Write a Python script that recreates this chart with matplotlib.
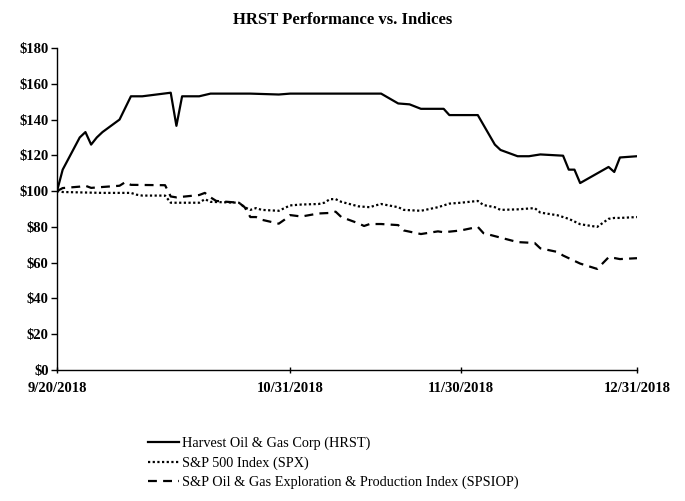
import matplotlib
matplotlib.use("Agg")
import matplotlib.pyplot as plt
import matplotlib.dates as mdates
import pandas as pd

plt.rcParams['font.family'] = ['Liberation Serif', 'DejaVu Serif']

hrst_dates = ["2018-09-20", "2018-09-21", "2018-09-24", "2018-09-25", "2018-09-26", "2018-09-27",
              "2018-09-28", "2018-10-01", "2018-10-03", "2018-10-05", "2018-10-10", "2018-10-11",
              "2018-10-12", "2018-10-15", "2018-10-17", "2018-10-24", "2018-10-29", "2018-10-31",
              "2018-11-05", "2018-11-07", "2018-11-16", "2018-11-19", "2018-11-21", "2018-11-23",
              "2018-11-27", "2018-11-28", "2018-12-03", "2018-12-06", "2018-12-07", "2018-12-10",
              "2018-12-12", "2018-12-14", "2018-12-18", "2018-12-19", "2018-12-20", "2018-12-21",
              "2018-12-26", "2018-12-27", "2018-12-28", "2018-12-31"]
hrst_values = [100, 112, 130, 133, 126, 130,
               133, 140, 153, 153, 155, 136.5,
               153, 153, 154.5, 154.5, 154, 154.5,
               154.5, 154.5, 154.5, 149, 148.5, 146,
               146, 142.5, 142.5, 126, 123, 119.5,
               119.5, 120.5, 119.8, 112, 112, 104.5,
               113.5, 110.7, 118.8, 119.5]

spx_dates = ["2018-09-20", "2018-09-21", "2018-09-28", "2018-10-03", "2018-10-04", "2018-10-05",
             "2018-10-09", "2018-10-10", "2018-10-11", "2018-10-12", "2018-10-15", "2018-10-16",
             "2018-10-17", "2018-10-22", "2018-10-23", "2018-10-24", "2018-10-25", "2018-10-26",
             "2018-10-29", "2018-10-30", "2018-10-31", "2018-11-02", "2018-11-05", "2018-11-06",
             "2018-11-07", "2018-11-08", "2018-11-09", "2018-11-12", "2018-11-14", "2018-11-15",
             "2018-11-16", "2018-11-19", "2018-11-20", "2018-11-23", "2018-11-26", "2018-11-28",
             "2018-11-30", "2018-12-03", "2018-12-04", "2018-12-06", "2018-12-07", "2018-12-10",
             "2018-12-13", "2018-12-14", "2018-12-17", "2018-12-19", "2018-12-21", "2018-12-24",
             "2018-12-26", "2018-12-27", "2018-12-28", "2018-12-31"]
spx_values = [100, 99.5, 99, 99, 98, 97.5,
              97.5, 93.5, 93.5, 93.5, 93.5, 95.5,
              94, 93.5, 91, 89.5, 90.5, 89.5,
              89, 90.5, 92, 92.5, 92.8, 93.5,
              95.5, 95.5, 94, 91.5, 91, 92,
              92.8, 91, 89.5, 89, 91, 93,
              93.5, 94.5, 92.2, 91, 89.5, 89.8,
              90.5, 88, 86.5, 84.5, 81.5, 80,
              84.5, 85, 85, 85.5]

sp_dates = ["2018-09-20", "2018-09-21", "2018-09-24", "2018-09-25", "2018-09-26", "2018-09-28",
            "2018-10-01", "2018-10-02", "2018-10-03", "2018-10-09", "2018-10-10", "2018-10-11",
            "2018-10-15", "2018-10-16", "2018-10-17", "2018-10-18", "2018-10-22", "2018-10-23",
            "2018-10-24", "2018-10-25", "2018-10-26", "2018-10-29", "2018-10-30", "2018-10-31",
            "2018-11-02", "2018-11-05", "2018-11-07", "2018-11-08", "2018-11-09", "2018-11-12",
            "2018-11-13", "2018-11-14", "2018-11-16", "2018-11-19", "2018-11-20", "2018-11-23",
            "2018-11-26", "2018-11-27", "2018-11-30", "2018-12-03", "2018-12-04", "2018-12-07",
            "2018-12-10", "2018-12-13", "2018-12-14", "2018-12-17", "2018-12-18", "2018-12-20",
            "2018-12-21", "2018-12-24", "2018-12-26", "2018-12-27", "2018-12-28", "2018-12-31"]
sp_values = [100, 101.7, 102.5, 103, 101.8, 102.3,
             103, 105, 103.5, 103.3, 97, 96.5,
             97.8, 99, 96.5, 94.5, 93.5, 91,
             85.5, 85.5, 84, 81.8, 84, 86.6,
             85.8, 87.5, 87.8, 88.5, 85.5, 82,
             80.5, 81.6, 81.6, 81, 78, 76,
             77.5, 77, 78, 80, 76.5, 74,
             71.5, 71, 68, 66, 64, 61,
             59.5, 56.5, 63, 62.6, 62, 62.5]

series_labels = ["Harvest Oil & Gas Corp (HRST)", "S&P 500 Index (SPX)",
                 "S&P Oil & Gas Exploration & Production Index (SPSIOP)"]
x_tick_labels = ["9/20/2018", "10/31/2018", "11/30/2018", "12/31/2018"]
y_ticks = list(range(0, 181, 20))

fig = plt.figure(figsize=(6.85, 5.01), dpi=100)
ax = fig.add_axes([57/685, 131/501, 580/685, 322/501])

ax.plot(pd.to_datetime(hrst_dates), hrst_values, color='black', lw=1.6, ls='-', label=series_labels[0])
ax.plot(pd.to_datetime(spx_dates), spx_values, color='black', lw=1.6, ls=(0, (1, 1.1)), label=series_labels[1])
ax.plot(pd.to_datetime(sp_dates), sp_values, color='black', lw=1.6, ls=(0, (4, 2.8)), label=series_labels[2])

xt = pd.to_datetime(x_tick_labels, format="%m/%d/%Y")
ax.set_xlim(xt[0], xt[-1])
ax.set_xticks(xt)
ax.set_xticklabels(x_tick_labels, fontweight='bold', fontsize=10.5)
ax.set_ylim(0, 180)
ax.set_yticks(y_ticks)
ax.set_yticklabels([f"${v}" for v in y_ticks], fontweight='bold', fontsize=10.5)

for s in ['top', 'right']:
    ax.spines[s].set_visible(False)
for s in ['left', 'bottom']:
    ax.spines[s].set_linewidth(1.0)
ax.tick_params(axis='y', direction='out', length=4, width=1, pad=2)
ax.tick_params(axis='x', direction='inout', length=5, width=1, pad=6)

fig.text(343/685, 1 - 20/501, "HRST Performance vs. Indices", ha='center', va='center',
         fontweight='bold', fontsize=12)

leg = fig.legend(loc='upper left', bbox_to_anchor=(142/685, 1 - 431/501), frameon=False,
                 fontsize=10.3, handlelength=2.2, handletextpad=0.2, labelspacing=0.42,
                 borderaxespad=0)

fig.savefig("out.png", dpi=100)
